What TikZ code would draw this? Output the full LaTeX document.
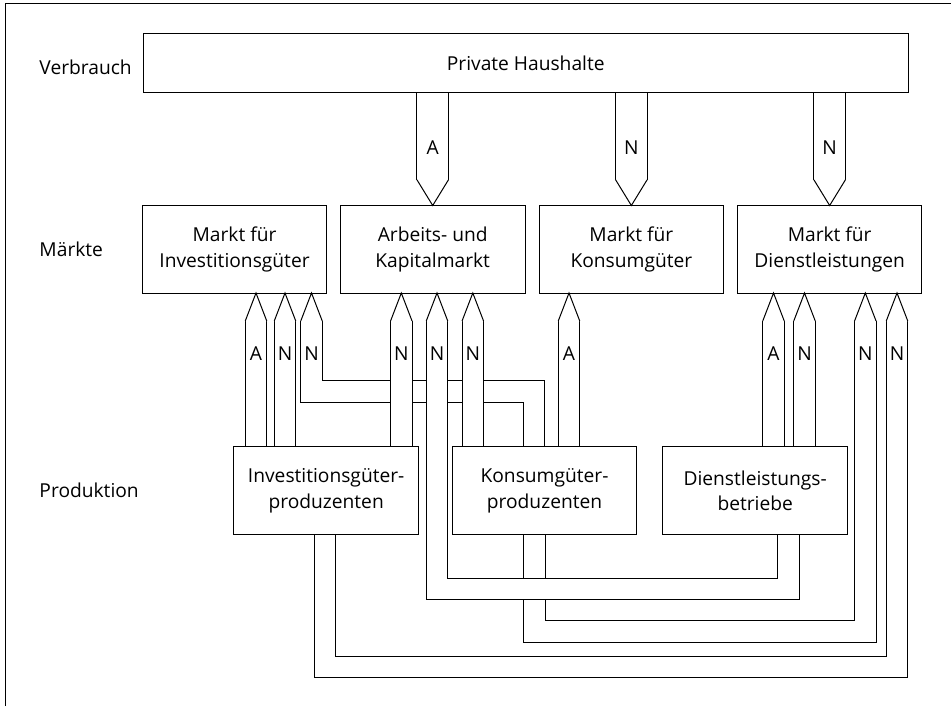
\documentclass[tikz,border=0pt]{standalone}
\usepackage{fontspec}
\setmainfont{Open Sans}
\usetikzlibrary{calc}
\tikzset{
  box/.style = {rectangle, align=center, inner sep=0pt,
    minimum width=91.8pt, minimum height=43.25pt},% Markt oder Produzent, Rahmen am Ende
  rowlabel/.style = {anchor=west, inner sep=0pt},% Ebene links
  band/.style = {draw, double=white, double distance=10.25pt},% Strom unten
  wideband/.style = {draw, double=white, double distance=15.25pt},% Strom oben
  head/.style = {draw, fill=white},% Pfeilspitze
  flowlabel/.style = {inner sep=0pt}% A oder N
}
\newcommand{\headup}[1]{\path[head] ($(#1)+(-10.75,28)$) -- (#1) -- ($(#1)+(10.75,28)$);}
\newcommand{\headdown}[1]{\path[head] ($(#1)+(-15.75,-25.7)$) -- (#1) -- ($(#1)+(15.75,-25.7)$);}
\begin{document}
\begin{tikzpicture}[x=0.5pt, y=-0.5pt, line width=0.5pt,
  font=\fontsize{9.6}{12.8}\selectfont]
\useasboundingbox (0,0) rectangle (951,706);
\draw (5,706) |- (951,4);

% Ebenen
\node[rowlabel] (verbrauch) at (39,67) {Verbrauch};
\node[rowlabel] (maerkte) at (39,249) {Märkte};
\node[rowlabel] (produktion) at (39,490) {Produktion};

\node[box, minimum width=382pt, minimum height=29pt] (ph) at (525.75,63.3) {Private Haushalte};
\node[box] (m1) at (234.5,249.25) {Markt für\\Investitionsgüter};
\node[box] (m2) at (432.7,249.25) {Arbeits- und\\Kapitalmarkt};
\node[box] (m3) at (631.35,249.25) {Markt für\\Konsumgüter};
\node[box] (m4) at (829.65,249.25) {Markt für\\Dienstleistungen};
\node[box] (p1) at (326.15,490.6) {Investitionsgüter-\\produzenten};
\node[box] (p2) at (544.5,490.6) {Konsumgüter-\\produzenten};
\node[box] (p3) at (755.15,490.6) {Dienstleistungs-\\betriebe};

% Umwege zuerst, sie liegen unten
\draw[band] (533.8,0 |- p2.north) |- (311.5,391.3) -- ($(311.5,0 |- m1.south)+(0,28)$);
\draw[band] (534.3,0 |- p2.south) |- (865.3,631.7) -- ($(865.3,0 |- m4.south)+(0,28)$);
\draw[band] (324.85,0 |- p1.south) |- (897,667) -- ($(897,0 |- m4.south)+(0,28)$);
\draw[band] (788.3,0 |- p3.south) |- (437,588.8) -- ($(437,0 |- m2.south)+(0,28)$);
\foreach \x/\dst in {311.5/m1, 865.3/m4, 897/m4, 437/m2} {
  \headup{\x,0 |- \dst.south}
}

% gerade Stroeme
\foreach \x/\src/\dst in {256/p1/m1, 285/p1/m1, 401.3/p1/m2, 472.8/p2/m2,
    569/p2/m3, 773.5/p3/m4, 804.5/p3/m4} {
  \draw[band] (\x,0 |- \src.north) -- ($(\x,0 |- \dst.south)+(0,28)$);
  \headup{\x,0 |- \dst.south}
}
\foreach \x/\lab [count=\i] in {256/A, 285/N, 311.5/N, 401.3/N, 437/N, 472.8/N,
    569/A, 773.5/A, 804.5/N, 865.3/N, 897/N} {
  \node[flowlabel] (lab\i) at (\x,353.5) {\lab};
}

% Haushalte an die Maerkte
\foreach \dst/\lab in {m2/A, m3/N, m4/N} {
  \draw[wideband] (\dst.north |- ph.south) -- ($(\dst.north)+(0,-25.7)$);
  \headdown{\dst.north}
  \node[flowlabel] (top\dst) at ($(\dst.north)+(0,-57.5)$) {\lab};
}

% Rahmen der Kaesten obenauf
\foreach \n in {ph,m1,m2,m3,m4,p1,p2,p3} {
  \draw (\n.south west) rectangle (\n.north east);
}
\end{tikzpicture}
\end{document}
